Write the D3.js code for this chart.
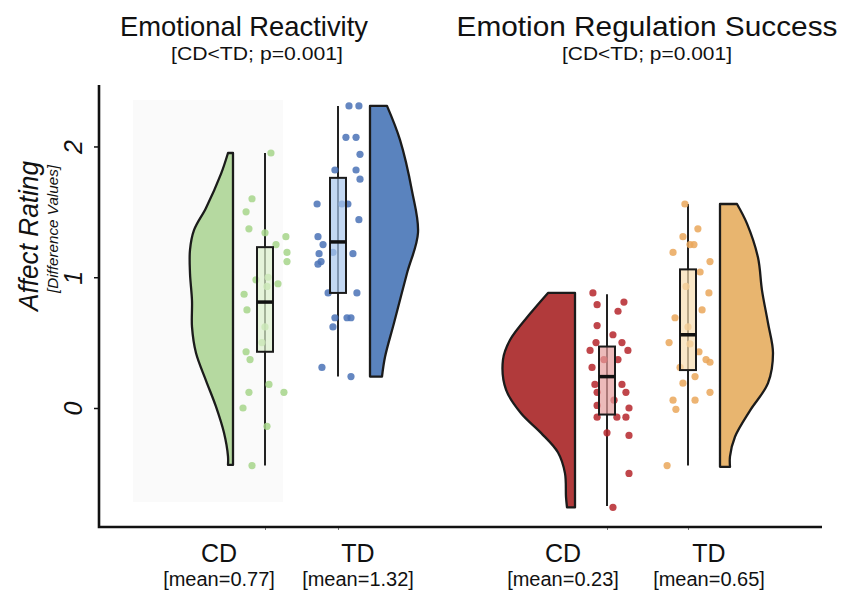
<!DOCTYPE html>
<html>
<head>
<meta charset="utf-8">
<script src="https://cdn.jsdelivr.net/npm/d3@7"></script>
<style>
  body { margin: 0; background: #fff; }
  text { font-family: "Liberation Sans", Arial, Helvetica, sans-serif; fill: #111; }
</style>
</head>
<body>
<div id="chart"></div>
<script>
// raincloud plot: half violin + jittered points + box per group

var groups = ['ER_CD', 'ER_TD', 'ERS_CD', 'ERS_TD'];
var groupLabels = ['CD', 'TD', 'CD', 'TD'];
var meanLabels = ['[mean=0.77]', '[mean=1.32]', '[mean=0.23]', '[mean=0.65]'];
var panelTitles = ['Emotional Reactivity', 'Emotion Regulation Success'];
var panelSubtitles = ['[CD<TD; p=0.001]', '[CD<TD; p=0.001]'];
var yTicks = [0, 1, 2];

// affect rating values (difference values)
var erCdValues = [1.95, 1.60, 1.50, 1.37, 1.34, 1.31, 1.25, 1.19, 1.12, 0.98, 1.00, 0.95, 0.93,
	0.87, 0.75, 0.62, 0.50, 0.43, 0.37, 0.18, 0.12, 0.12, 0.00, -0.14, -0.44];
var erCdJitter = [0.27, -0.59, -0.86, -0.73, 0, 0.95, 0.5, 1.0, 1.0, -0.41, 0.14, 0.59, 0.09,
	-0.95, -0.82, 0, -0.14, -0.86, -0.68, 0.18, -0.73, 0.86, -1.0, 0.09, -0.59];

var erTdValues = [2.31, 2.31, 2.07, 2.07, 1.94, 1.82, 1.82, 1.75, 1.56, 1.56, 1.56, 1.44, 1.31,
	1.25, 1.19, 1.18, 1.18, 1.12, 1.10, 0.88, 0.88, 0.69, 0.69, 0.69, 0.62, 0.31, 0.24];
var erTdJitter = [0.5, 0.95, 0.36, 0.82, 1.0, -0.14, 0.82, 1.0, -0.95, 0.18, 0.45, 0.95, -0.91,
	-0.68, -0.23, 0.68, -0.86, -0.77, -0.91, -0.45, 0.86, -0.14, 0.41, 0.59, -0.23, -0.73, 0.59];

var ersCdValues = [0.88, 0.79, 0.81, 0.74, 0.63, 0.56, 0.50, 0.50, 0.44, 0.44, 0.37, 0.37, 0.31,
	0.18, 0.18, 0.12, 0.12, 0.06, 0.02, 0.00, -0.07, -0.07, -0.07, -0.19, -0.21, -0.50, -0.76];
var ersCdJitter = [-0.64, -0.45, 0.77, 0.5, -0.45, 0.27, -0.5, 0.68, -0.77, 0.95, -0.14, 0.5, -0.68,
	-0.55, 0.68, 0.86, -0.45, 0.32, -0.45, 1.0, -0.45, 0.45, 0.86, 0, 1.0, 1.0, 0.27];

var ersTdValues = [1.56, 1.37, 1.31, 1.25, 1.25, 1.19, 1.12, 1.04, 0.93, 0.88, 0.75, 0.69, 0.62,
	0.50, 0.49, 0.43, 0.37, 0.35, 0.31, 0.24, 0.19, 0.12, 0.06, 0.06, -0.01, -0.44];
var ersTdJitter = [-0.14, 0.45, -0.23, 0.09, 0.27, -0.68, 1.0, 0.55, -0.09, 0.95, 0.64, -0.59, 0,
	-0.86, 0.09, 0.5, 0.82, 1.0, -0.36, 0.32, -0.23, 1.0, -0.68, 0.32, -0.55, -0.95];

// box stats: [min, q1, median, q3, max]
var erCdBox = [-0.44, 0.43, 0.81, 1.23, 1.95];
var erTdBox = [0.24, 0.88, 1.27, 1.76, 2.31];
var ersCdBox = [-0.75, -0.05, 0.24, 0.47, 0.87];
var ersTdBox = [-0.44, 0.29, 0.56, 1.06, 1.56];

// half violin outlines: [value, relative density]
var erCdDensity = [[1.95, .05], [1.79, .12], [1.53, .27], [1.36, .39], [1.21, .43], [1.03, .43], [0.82, .41],
	[0.62, .41], [0.42, .37], [0.21, .27], [0.01, .17], [-0.19, .09], [-0.37, .05], [-0.435, .05]];
var erTdDensity = [[2.31, .17], [2.05, .30], [1.66, .42], [1.34, .48], [1.03, .37], [0.65, .24],
	[0.39, .15], [0.24, .12]];
var ersCdDensity = [[0.88, .27], [0.72, .45], [0.52, .65], [0.37, .72], [0.14, .69], [-0.04, .54],
	[-0.19, .34], [-0.34, .17], [-0.50, .10], [-0.68, .09], [-0.76, .08]];
var ersTdDensity = [[1.56, .17], [1.41, .27], [1.15, .38], [0.90, .42], [0.65, .48], [0.42, .53],
	[0.19, .48], [-0.02, .30], [-0.22, .15], [-0.37, .10], [-0.45, .10]];

var build = function() {
	var data = [
		{key: 'ER_CD', side: -1, values: erCdValues, jitter: erCdJitter, box: erCdBox, density: erCdDensity,
			violin: '#b5d9a0', point: '#a6d58a', boxFill: '#dcefcc'},
		{key: 'ER_TD', side: 1, values: erTdValues, jitter: erTdJitter, box: erTdBox, density: erTdDensity,
			violin: '#5a83be', point: '#4a72b6', boxFill: '#a9c8ec'},
		{key: 'ERS_CD', side: -1, values: ersCdValues, jitter: ersCdJitter, box: ersCdBox, density: ersCdDensity,
			violin: '#b13a3b', point: '#b5262c', boxFill: '#e59c9c'},
		{key: 'ERS_TD', side: 1, values: ersTdValues, jitter: ersTdJitter, box: ersTdBox, density: ersTdDensity,
			violin: '#e8b56f', point: '#eaa75a', boxFill: '#f6ddb0'}
	]
	return data
};

var init = function(domelement, data) {
	var width = 843, height = 592
	var plot = {top: 85, bottom: 527, left: 99, right: 822}

	var svg = d3.select(domelement).append('svg')
		.attr('width', width)
		.attr('height', height)

	var y = d3.scaleLinear().domain([-0.91, 2.47]).range([plot.bottom, plot.top])
	var boxX = d3.scaleOrdinal().domain(groups).range([265, 338, 607, 688])
	var labelX = d3.scaleOrdinal().domain(groups).range([219, 358, 563, 709])
	var titleX = d3.scaleOrdinal().domain([0, 1]).range([244, 647])
	var subtitleX = d3.scaleOrdinal().domain([0, 1]).range([257, 647])
	var jitter = d3.scaleLinear().domain([-1, 1]).range([-22, 22])
	var violinW = d3.scaleLinear().domain([0, 1]).range([0, 100])
	var violinGap = 32
	var boxW = 16

	// faint backdrop behind the first group
	svg.append('rect')
		.attr('x', 133).attr('y', 100).attr('width', 150).attr('height', 402)
		.attr('fill', '#fafafa')

	var shells = svg.selectAll('g.group')
		.data(data)
		.enter()
		.append('g').attr('class', 'group')

	// half violins
	shells.append('path')
		.attr('d', function(d) {
			var edge = boxX(d.key) + d.side * violinGap
			return d3.area()
				.curve(d3.curveCatmullRom.alpha(0.5))
				.y(function(p) { return y(p[0]) })
				.x0(edge)
				.x1(function(p) { return edge + d.side * violinW(p[1]) })(d.density)
		})
		.attr('fill', function(d) { return d.violin })
		.attr('stroke', '#1b1b1b')
		.attr('stroke-width', 2.3)
		.attr('stroke-linejoin', 'round')

	// whiskers
	shells.append('line')
		.attr('x1', function(d) { return boxX(d.key) })
		.attr('x2', function(d) { return boxX(d.key) })
		.attr('y1', function(d) { return y(d.box[0]) })
		.attr('y2', function(d) { return y(d.box[4]) })
		.attr('stroke', '#222')
		.attr('stroke-width', 2)

	// jittered points
	shells.each(function(d) {
		d3.select(this).selectAll('circle')
			.data(d.values.map(function(v, i) { return {v: v, j: d.jitter[i]} }))
			.enter()
			.append('circle')
			.attr('r', 3.6)
			.attr('cx', function(p) { return boxX(d.key) + jitter(p.j) })
			.attr('cy', function(p) { return y(p.v) })
			.attr('fill', d.point)
			.attr('fill-opacity', 0.85)
	})

	// boxes
	shells.append('rect')
		.attr('x', function(d) { return boxX(d.key) - boxW / 2 })
		.attr('y', function(d) { return y(d.box[3]) })
		.attr('width', boxW)
		.attr('height', function(d) { return y(d.box[1]) - y(d.box[3]) })
		.attr('fill', function(d) { return d.boxFill })
		.attr('fill-opacity', 0.7)
		.attr('stroke', '#1b1b1b')
		.attr('stroke-width', 2)
	shells.append('line')
		.attr('x1', function(d) { return boxX(d.key) - boxW / 2 })
		.attr('x2', function(d) { return boxX(d.key) + boxW / 2 })
		.attr('y1', function(d) { return y(d.box[2]) })
		.attr('y2', function(d) { return y(d.box[2]) })
		.attr('stroke', '#111')
		.attr('stroke-width', 3.5)

	// y axis
	var yAxis = svg.append('g')
		.attr('transform', 'translate(' + plot.left + ',0)')
		.call(d3.axisLeft(y).tickValues(yTicks).tickSize(5).tickFormat(d3.format('d')))
	yAxis.select('.domain').remove()
	yAxis.selectAll('.tick line').attr('stroke', '#111').attr('stroke-width', 1.5)
	yAxis.selectAll('.tick text')
		.attr('transform', 'rotate(-90)')
		.attr('x', 0).attr('y', -17).attr('dy', 0)
		.attr('text-anchor', 'middle')
		.style('font-size', '25px')
		.style('font-style', 'italic')
		.attr('fill', '#111')

	// x axis ticks
	var xAxis = svg.append('g')
		.attr('transform', 'translate(0,' + plot.bottom + ')')
		.call(d3.axisBottom(boxX).tickSize(3).tickFormat(''))
	xAxis.select('.domain').remove()
	xAxis.selectAll('.tick line').attr('stroke', '#777')

	// axis lines
	svg.append('path')
		.attr('d', 'M' + plot.left + ',' + plot.top + 'V' + plot.bottom + 'H' + plot.right)
		.attr('fill', 'none')
		.attr('stroke', '#111')
		.attr('stroke-width', 2.6)

	// y title
	svg.append('text')
		.attr('transform', 'translate(38,236) rotate(-90)')
		.attr('text-anchor', 'middle')
		.attr('textLength', 150)
		.attr('lengthAdjust', 'spacingAndGlyphs')
		.style('font-size', '28px')
		.style('font-style', 'italic')
		.text('Affect Rating')
	svg.append('text')
		.attr('transform', 'translate(58,229) rotate(-90)')
		.attr('text-anchor', 'middle')
		.attr('textLength', 128)
		.attr('lengthAdjust', 'spacingAndGlyphs')
		.style('font-size', '14px')
		.style('font-style', 'italic')
		.text('[Difference Values]')

	// panel titles
	var titleLen = [248, 381]
	var subtitleLen = [172, 170]
	svg.selectAll('text.title')
		.data(panelTitles)
		.enter()
		.append('text').attr('class', 'title')
		.attr('x', function(d, i) { return titleX(i) })
		.attr('y', 36)
		.attr('text-anchor', 'middle')
		.attr('textLength', function(d, i) { return titleLen[i] })
		.attr('lengthAdjust', 'spacingAndGlyphs')
		.style('font-size', '28px')
		.text(function(d) { return d })
	svg.selectAll('text.subtitle')
		.data(panelSubtitles)
		.enter()
		.append('text').attr('class', 'subtitle')
		.attr('x', function(d, i) { return subtitleX(i) })
		.attr('y', 60)
		.attr('text-anchor', 'middle')
		.attr('textLength', function(d, i) { return subtitleLen[i] })
		.attr('lengthAdjust', 'spacingAndGlyphs')
		.style('font-size', '19px')
		.text(function(d) { return d })

	// category labels
	svg.selectAll('text.cat')
		.data(groups)
		.enter()
		.append('text').attr('class', 'cat')
		.attr('x', function(d) { return labelX(d) })
		.attr('y', 562)
		.attr('text-anchor', 'middle')
		.style('font-size', '25px')
		.text(function(d, i) { return groupLabels[i] })
	svg.selectAll('text.mean')
		.data(groups)
		.enter()
		.append('text').attr('class', 'mean')
		.attr('x', function(d) { return labelX(d) })
		.attr('y', 586)
		.attr('text-anchor', 'middle')
		.style('font-size', '20px')
		.text(function(d, i) { return meanLabels[i] })
};

init('#chart', build())
</script>
</body>
</html>
